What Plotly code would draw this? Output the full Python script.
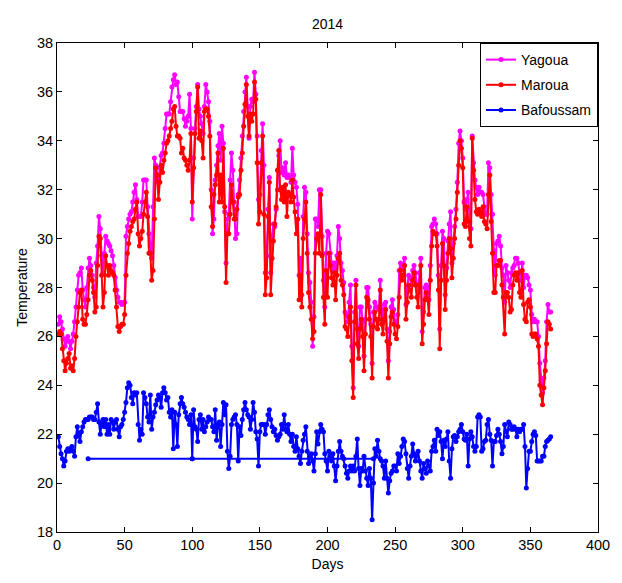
import plotly.graph_objects as go

# ---------------- data (daily mean temperature, 2014) ----------------
yagoua = [
    26.5, 26.8, 26.6, 26.3, 25.9, 25.6, 25.8, 26.0, 25.8, 25.5,
    25.8, 26.1, 26.6, 27.2, 27.9, 28.5, 28.6, 28.8, 27.9, 27.5,
    27.2, 28.0, 28.8, 29.2, 28.9, 28.5, 28.0, 27.6, 29.0, 29.7,
    30.9, 30.4, 29.3, 28.6, 29.4, 30.1, 29.9, 29.8, 29.7, 29.5,
    29.3, 28.9, 28.4, 27.9, 27.6, 27.4, 27.4, 27.3, 27.4, 27.4,
    30.1, 30.5, 30.8, 31.0, 31.1, 31.5, 31.9, 32.2, 31.6, 30.9,
    30.9, 30.9, 31.5, 32.4, 32.4, 32.4, 31.3, 30.2, 29.7, 29.2,
    31.3, 33.3, 33.0, 32.6, 32.3, 32.9, 33.4, 33.5, 33.9, 34.5,
    35.1, 35.1, 35.1, 35.6, 36.2, 36.5, 36.7, 36.3, 36.4, 35.8,
    35.2, 35.2, 35.2, 34.9, 34.6, 34.8, 35.0, 35.9, 34.5, 30.8,
    33.3, 34.5, 35.4, 36.3, 35.3, 35.0, 34.7, 34.3, 35.4, 36.3,
    36.0, 35.6, 34.8, 32.0, 30.2, 30.8, 32.4, 33.0, 33.8, 34.3,
    33.2, 34.6, 33.9, 31.1, 29.0, 30.8, 31.0, 32.4, 33.5, 32.8,
    31.5, 30.0, 30.2, 31.8, 32.4, 33.3, 34.2, 35.2, 36.0, 36.6,
    35.4, 34.1, 35.4, 35.7, 35.6, 36.8, 35.9, 34.2, 31.6, 31.8,
    33.6, 34.7, 33.0, 28.6, 29.3, 31.2, 32.5, 28.6, 30.1, 30.6,
    30.5, 31.2, 32.0, 33.4, 34.0, 32.7, 32.9, 32.6, 33.1, 32.5,
    32.6, 32.5, 32.3, 33.7, 32.6, 32.3, 32.1, 31.4, 28.5, 29.2,
    27.7, 30.9, 32.1, 31.9, 30.2, 28.6, 28.2, 27.4, 25.6, 26.8,
    30.8, 30.8, 30.5, 32.0, 32.0, 30.1, 28.3, 27.2, 29.4, 30.3,
    30.2, 29.4, 29.0, 28.7, 29.0, 28.7, 29.3, 30.5, 30.0, 29.0,
    28.7, 28.2, 27.0, 26.9, 26.6, 27.4, 28.1, 25.6, 23.9, 27.0,
    28.3, 26.3, 25.6, 27.2, 27.2, 26.6, 25.2, 26.7, 28.0, 28.0,
    27.2, 26.5, 24.9, 27.0, 27.4, 27.2, 27.2, 27.1, 28.3, 27.1,
    26.6, 27.3, 27.4, 26.3, 25.0, 26.2, 27.2, 27.5, 27.1, 26.6,
    26.5, 26.9, 28.7, 29.0, 28.8, 28.9, 29.2, 27.3, 28.0, 28.5,
    28.4, 28.1, 28.7, 28.9, 28.6, 28.1, 27.8, 28.6, 29.2, 26.2,
    27.0, 28.0, 28.1, 28.0, 27.5, 28.9, 30.5, 30.6, 30.8, 30.6,
    30.2, 28.5, 26.3, 28.9, 30.3, 30.0, 27.7, 28.8, 29.9, 30.6,
    31.1, 29.0, 29.8, 30.5, 31.2, 32.3, 33.9, 34.4, 34.0, 33.3,
    31.5, 31.2, 31.6, 31.9, 30.8, 30.4, 34.2, 33.1, 32.4, 32.1,
    31.8, 32.1, 31.9, 31.9, 31.8, 31.3, 31.0, 31.0, 33.1, 32.9,
    31.8, 31.0, 29.5, 28.5, 29.8, 29.9, 30.1, 29.7, 28.8, 28.5,
    27.4, 28.9, 28.6, 28.3, 28.0, 28.6, 28.8, 28.9, 29.2, 29.2,
    29.0, 28.6, 28.3, 29.0, 28.0, 28.5, 28.5, 28.4, 28.1, 27.9,
    26.9, 26.6, 26.7, 26.6, 26.6, 26.0, 24.9, 24.2, 23.7, 24.3,
    25.0, 26.6, 27.3, 27.0, 27.0,
]

maroua = [
    26.1, 26.2, 26.1, 25.5, 25.0, 24.6, 24.9, 25.1, 25.3, 24.7,
    24.8, 24.6, 25.1, 26.0, 26.6, 27.2, 27.8, 27.9, 26.7, 26.5,
    26.5, 26.9, 27.5, 28.5, 28.7, 28.3, 27.8, 27.0, 27.2, 28.9,
    30.1, 30.0, 28.5, 27.2, 27.8, 29.3, 28.9, 28.5, 28.9, 28.7,
    28.6, 28.5, 27.9, 27.2, 26.4, 26.2, 26.4, 26.5, 26.5, 26.9,
    28.5, 29.4, 29.8, 30.3, 30.5, 30.7, 30.8, 31.2, 31.5, 30.2,
    29.7, 30.0, 30.3, 31.0, 31.5, 31.9, 30.9, 29.4, 29.4, 28.3,
    28.7, 30.8, 32.9, 32.6, 31.6, 32.3, 33.0, 32.7, 33.2, 33.5,
    33.9, 34.0, 34.2, 34.5, 34.8, 35.3, 35.4, 34.6, 34.2, 34.2,
    34.1, 33.5, 33.7, 33.3, 33.2, 33.0, 32.8, 33.2, 34.3, 31.5,
    32.9, 34.3, 35.2, 36.2, 34.1, 34.4, 34.0, 33.3, 35.2, 35.3,
    35.3, 35.0, 34.2, 31.3, 30.5, 31.8, 32.2, 32.6, 33.5, 31.5,
    32.6, 31.5, 33.7, 31.3, 28.2, 30.2, 30.2, 31.0, 32.2, 31.5,
    30.8, 30.8, 31.2, 31.7, 31.8, 32.8, 33.5, 34.6, 35.5, 36.3,
    35.0, 34.2, 35.1, 34.8, 35.1, 36.4, 35.7, 33.1, 30.6, 31.1,
    33.1, 34.2, 31.0, 27.7, 28.4, 30.9, 32.3, 27.7, 29.2, 29.9,
    30.6, 31.3, 32.8, 33.6, 32.0, 31.6, 32.1, 31.5, 32.2, 30.9,
    31.9, 31.8, 31.5, 32.4, 31.7, 31.1, 30.2, 30.8, 27.5, 28.5,
    27.2, 30.0, 30.8, 31.5, 29.4, 27.8, 27.2, 26.7, 25.9, 26.2,
    29.4, 30.0, 30.2, 29.4, 31.8, 29.3, 27.6, 26.5, 28.7, 27.6,
    29.4, 28.9, 28.4, 28.1, 28.6, 27.5, 28.5, 29.2, 29.4, 28.3,
    28.1, 27.7, 26.4, 26.3, 26.0, 26.8, 27.2, 25.0, 23.5, 26.6,
    28.1, 25.7, 25.1, 26.3, 26.7, 26.0, 24.6, 26.1, 27.6, 27.5,
    26.7, 26.0, 24.3, 26.4, 27.0, 26.7, 26.3, 26.7, 27.9, 26.5,
    26.1, 26.7, 27.1, 25.8, 24.3, 25.7, 26.8, 27.0, 26.5, 26.1,
    25.9, 26.4, 27.6, 28.7, 28.3, 28.5, 28.9, 26.7, 27.4, 28.1,
    27.9, 27.6, 28.3, 28.6, 28.1, 27.6, 27.2, 28.1, 28.9, 25.7,
    26.5, 27.5, 27.8, 27.5, 26.9, 28.3, 29.7, 30.3, 30.2, 30.2,
    29.7, 27.9, 25.5, 28.3, 29.8, 28.9, 27.1, 28.3, 29.4, 30.0,
    29.6, 28.4, 29.2, 30.0, 30.8, 31.9, 33.0, 34.0, 33.7, 32.9,
    30.6, 30.5, 31.3, 30.7, 30.0, 29.7, 34.1, 32.8, 31.6, 31.1,
    31.0, 31.2, 31.1, 30.9, 31.3, 30.7, 30.6, 30.4, 31.8, 32.6,
    30.7, 29.4, 27.8, 27.8, 28.9, 28.9, 29.1, 29.1, 28.1, 27.6,
    26.1, 27.8, 27.8, 27.6, 27.0, 27.1, 28.1, 28.5, 28.6, 28.3,
    28.6, 27.8, 27.6, 28.7, 27.3, 26.7, 26.6, 27.4, 27.5, 27.2,
    26.1, 26.0, 26.1, 26.1, 25.9, 25.6, 24.0, 23.6, 23.2, 23.9,
    24.6, 25.7, 26.6, 26.5, 26.3,
]

bafoussam = [
    21.9, 21.5, 21.2, 21.0, 20.7, 20.9, 21.3, 21.4, 21.3, 21.4,
    21.5, 21.3, 21.1, 21.9, 22.3, 21.95, 21.7, 22.1, 22.3, 22.5,
    22.6, 22.6, 22.6, 22.7, 22.7, 22.7, 22.6, 22.6, 22.9, 23.25,
    22.5, 22.0, 22.4, 22.6, 22.3, 22.6, 22.0, 22.4, 22.0, 22.6,
    22.5, 22.2, 22.5, 22.6, 22.2, 21.9, 22.3, 22.4, 22.6, 22.9,
    23.3, 23.9, 24.1, 24.0, 23.5, 23.25, 23.7, 23.6, 23.7, 22.4,
    21.75, 22.2, 22.0, 23.7, 23.5, 23.25, 22.7, 22.5, 23.6, 22.2,
    22.7, 22.9, 23.2, 23.4, 23.6, 23.5, 23.1, 23.7, 23.9, 23.7,
    23.4, 23.5, 22.9, 22.7, 23.0, 21.4, 22.9, 22.4, 21.5, 22.8,
    23.25, 23.5, 23.25, 23.1, 22.9, 22.7, 22.6, 22.4, 22.8, 21.0,
    23.0, 22.3, 22.2, 21.7, 22.6, 22.8, 22.2, 22.6, 22.1, 22.3,
    22.5, 22.7, 22.6, 22.6, 22.3, 22.1, 23.0, 21.75, 22.4, 22.5,
    21.5, 22.4, 23.3, 22.8, 23.2, 21.3, 20.6, 21.1, 22.4, 22.6,
    22.7, 22.8, 22.4, 20.9, 22.3, 21.95, 22.6, 23.0, 23.3, 23.0,
    22.8, 22.7, 22.2, 22.6, 23.3, 22.9, 22.1, 21.8, 20.7, 22.1,
    22.4, 22.4, 22.4, 22.0, 22.4, 22.8, 23.0, 22.6, 22.3, 22.1,
    22.2, 21.95, 21.75, 21.9, 22.0, 22.4, 22.2, 22.8, 22.2, 22.1,
    22.4, 22.0, 21.7, 22.0, 21.5, 21.3, 21.9, 21.4, 21.1, 20.8,
    21.3, 21.75, 22.0, 22.3, 21.3, 20.8, 21.1, 21.2, 20.9, 20.5,
    21.2, 22.1, 21.6, 22.1, 22.4, 22.2, 22.1, 21.2, 20.9, 20.5,
    21.3, 21.1, 20.9, 21.2, 20.7, 20.1, 20.7, 21.3, 21.7, 21.3,
    21.1, 21.0, 20.7, 20.4, 20.2, 20.5, 20.7, 20.5, 20.7, 20.5,
    21.1, 21.8, 20.6, 19.9, 20.6, 20.5, 21.1, 20.5, 20.2, 19.9,
    20.6, 20.2, 18.5, 20.0, 21.4, 21.1, 21.75, 21.3, 21.0, 20.9,
    20.7, 20.2, 20.9, 20.2, 19.6, 20.1, 20.4, 20.5, 20.7, 20.7,
    20.5, 21.2, 20.8, 21.1, 21.5, 21.8, 21.7, 21.2, 20.6, 20.2,
    20.7, 21.1, 21.6, 21.2, 20.9, 21.1, 21.3, 20.9, 20.5, 20.2,
    20.8, 20.6, 20.4, 20.9, 20.7, 20.5, 21.3, 21.5, 21.75, 21.3,
    22.2, 21.95, 22.1, 21.7, 21.0, 21.75, 21.5, 21.8, 22.1, 20.9,
    20.2, 21.4, 21.9, 21.95, 21.7, 21.9, 22.1, 22.2, 22.4, 22.1,
    21.8, 21.75, 22.0, 20.7, 21.8, 22.1, 21.9, 21.5, 21.3, 21.5,
    22.7, 22.8, 22.7, 21.3, 21.4, 21.7, 21.75, 22.4, 22.6, 22.0,
    21.75, 20.7, 21.7, 21.7, 21.95, 22.2, 22.0, 21.7, 21.2, 21.5,
    22.4, 22.1, 21.9, 22.5, 22.4, 22.2, 22.2, 22.3, 22.2, 21.9,
    22.2, 22.1, 22.2, 22.2, 22.4, 21.5, 19.8, 20.6, 21.3, 21.3,
    21.7, 22.0, 22.1, 21.95, 20.9, 20.9, 20.9, 20.9, 21.1, 21.1,
    21.5, 21.7, 21.75, 21.8, 21.9,
]

# the stray flat Bafoussam segment visible in the original figure
baf_flat_days = [23, 100, 234]
baf_flat_temp = [21.0, 21.0, 21.0]

x_ticks = [0, 50, 100, 150, 200, 250, 300, 350, 400]
y_ticks = [18, 20, 22, 24, 26, 28, 30, 32, 34, 36, 38]

# ---------------- figure ----------------
FONT = "Liberation Sans, Arial, Helvetica, sans-serif"
FS = 14
LW = 2
MS = 5

fig = go.Figure()
series = [
    ("Yagoua", yagoua, "#FF00FF"),
    ("Maroua", maroua, "#FF0000"),
    ("Bafoussam", bafoussam, "#0000FF"),
]
for name, vals, col in series:
    fig.add_trace(go.Scatter(
        x=list(range(1, len(vals) + 1)), y=vals, name=name,
        mode="lines+markers", legendgroup=name,
        line=dict(color=col, width=LW),
        marker=dict(color=col, size=MS),
    ))

fig.add_trace(go.Scatter(
    x=baf_flat_days, y=baf_flat_temp, mode="lines+markers",
    legendgroup="Bafoussam", showlegend=False,
    line=dict(color="#0000FF", width=LW), marker=dict(color="#0000FF", size=MS),
))

axis_common = dict(
    showline=True, mirror="ticks", linecolor="black", linewidth=1,
    ticks="inside", ticklen=5, tickcolor="black", tickwidth=1,
    showgrid=False, zeroline=False,
    tickfont=dict(family=FONT, size=14.5, color="black"),
)

fig.update_layout(
    width=622, height=583,
    margin=dict(l=57, r=22, t=43, b=51),
    paper_bgcolor="white", plot_bgcolor="white",
    font=dict(family=FONT, size=FS, color="black"),
    title=dict(text="2014", x=0.5, xref="paper", xanchor="center",
               y=1 - 24 / 583, yanchor="middle",
               font=dict(family=FONT, size=FS, color="black")),
    showlegend=True,
    legend=dict(x=1, xanchor="right", y=1, yanchor="top",
                bgcolor="white", bordercolor="black", borderwidth=1,
                font=dict(family=FONT, size=FS, color="black"),
                tracegroupgap=4, itemwidth=30),
    xaxis=dict(range=[0, 400], tickvals=x_ticks,
               title=dict(text="Days", standoff=6,
                          font=dict(family=FONT, size=FS)),
               **axis_common),
    yaxis=dict(range=[18, 38], tickvals=y_ticks,
               title=dict(text="Temperature", standoff=6,
                          font=dict(family=FONT, size=FS)),
               **axis_common),
)

fig.write_html("out.html")
